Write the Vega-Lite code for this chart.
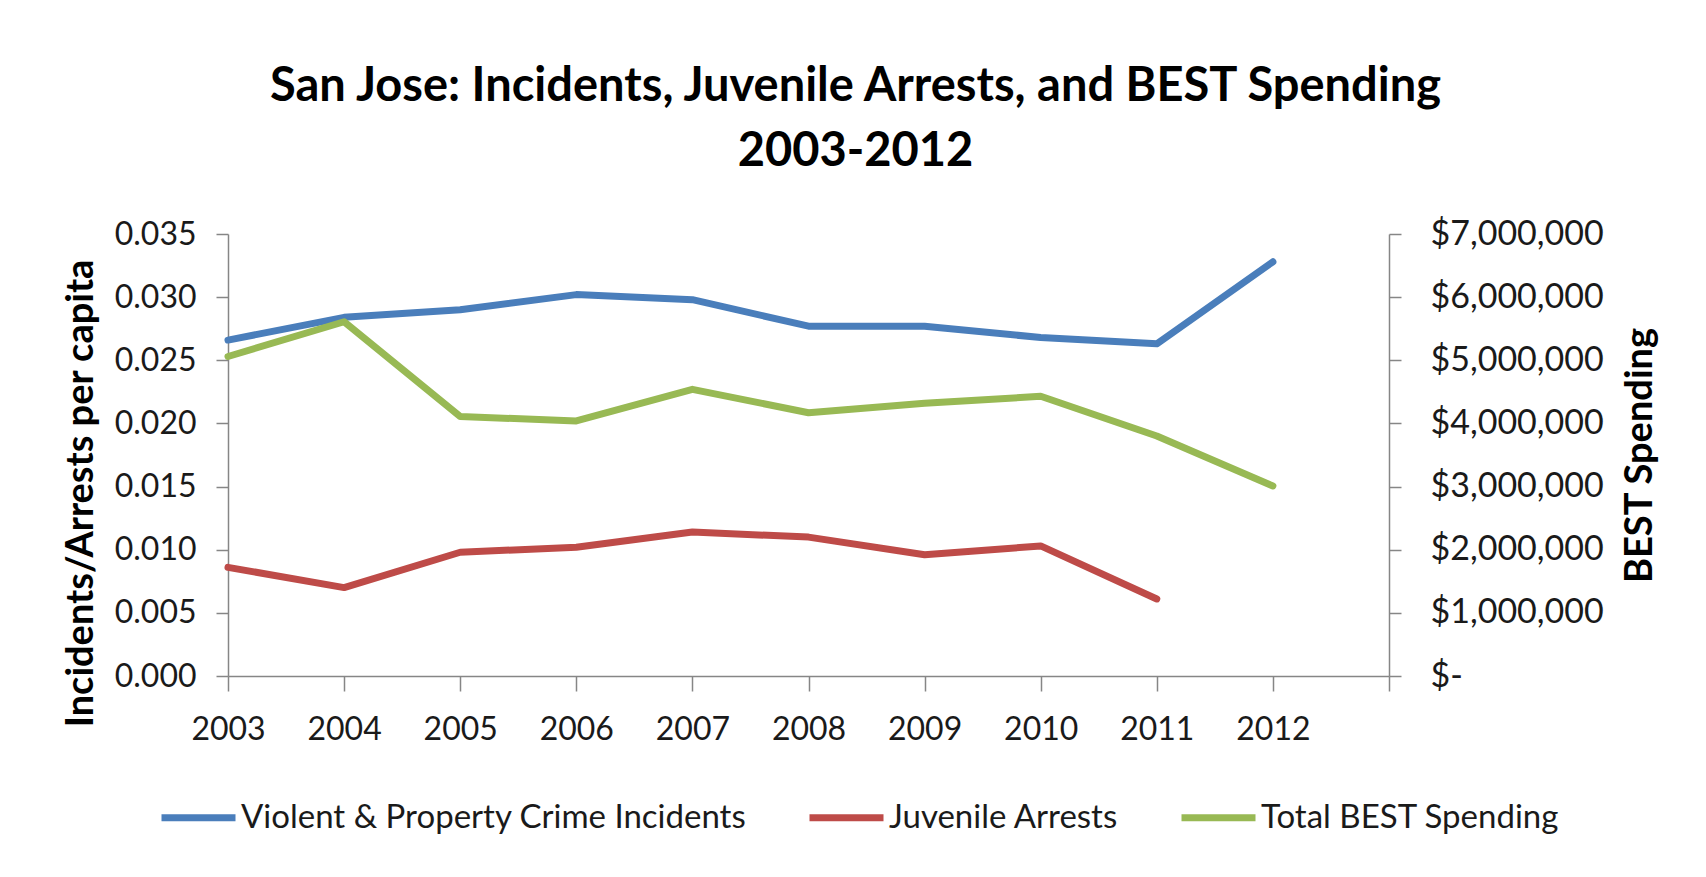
{
  "$schema": "https://vega.github.io/schema/vega-lite/v6.json",
  "width": 1161,
  "height": 442,
  "autosize": "none",
  "padding": {"left": 228, "top": 234, "right": 317, "bottom": 201},
  "background": "white",
  "config": {
    "font": "Lato",
    "view": {"stroke": null},
    "axis": {"labelFlush": false, "labelOverlap": false, "labelBound": false, "labelLimit": 0}
  },
  "title": {
    "text": ["San Jose: Incidents, Juvenile Arrests, and BEST Spending", "2003-2012"],
    "font": "Lato",
    "fontSize": 47,
    "fontWeight": "bold",
    "color": "#000000",
    "anchor": "middle",
    "frame": "group",
    "dx": 47,
    "lineHeight": 65,
    "baseline": "alphabetic",
    "offset": 4
  },
  "data": {
    "values": [
      {"year": 2003, "series": "Violent & Property Crime Incidents", "value": 0.0266},
      {"year": 2004, "series": "Violent & Property Crime Incidents", "value": 0.0284},
      {"year": 2005, "series": "Violent & Property Crime Incidents", "value": 0.0290},
      {"year": 2006, "series": "Violent & Property Crime Incidents", "value": 0.0302},
      {"year": 2007, "series": "Violent & Property Crime Incidents", "value": 0.0298},
      {"year": 2008, "series": "Violent & Property Crime Incidents", "value": 0.0277},
      {"year": 2009, "series": "Violent & Property Crime Incidents", "value": 0.0277},
      {"year": 2010, "series": "Violent & Property Crime Incidents", "value": 0.0268},
      {"year": 2011, "series": "Violent & Property Crime Incidents", "value": 0.0263},
      {"year": 2012, "series": "Violent & Property Crime Incidents", "value": 0.0328},
      {"year": 2003, "series": "Juvenile Arrests", "value": 0.0086},
      {"year": 2004, "series": "Juvenile Arrests", "value": 0.0070},
      {"year": 2005, "series": "Juvenile Arrests", "value": 0.0098},
      {"year": 2006, "series": "Juvenile Arrests", "value": 0.0102},
      {"year": 2007, "series": "Juvenile Arrests", "value": 0.0114},
      {"year": 2008, "series": "Juvenile Arrests", "value": 0.0110},
      {"year": 2009, "series": "Juvenile Arrests", "value": 0.0096},
      {"year": 2010, "series": "Juvenile Arrests", "value": 0.0103},
      {"year": 2011, "series": "Juvenile Arrests", "value": 0.0061},
      {"year": 2003, "series": "Total BEST Spending", "value": 5060000},
      {"year": 2004, "series": "Total BEST Spending", "value": 5610000},
      {"year": 2005, "series": "Total BEST Spending", "value": 4110000},
      {"year": 2006, "series": "Total BEST Spending", "value": 4040000},
      {"year": 2007, "series": "Total BEST Spending", "value": 4540000},
      {"year": 2008, "series": "Total BEST Spending", "value": 4170000},
      {"year": 2009, "series": "Total BEST Spending", "value": 4320000},
      {"year": 2010, "series": "Total BEST Spending", "value": 4430000},
      {"year": 2011, "series": "Total BEST Spending", "value": 3800000},
      {"year": 2012, "series": "Total BEST Spending", "value": 3010000}
    ]
  },
  "encoding": {
    "x": {
      "field": "year",
      "type": "quantitative",
      "scale": {"domain": [2003, 2013], "nice": false, "zero": false},
      "axis": {
        "title": null,
        "values": [2003, 2004, 2005, 2006, 2007, 2008, 2009, 2010, 2011, 2012, 2013],
        "format": "d",
        "labelExpr": "datum.value == 2013 ? '' : datum.label",
        "grid": false,
        "domainColor": "#868686",
        "domainWidth": 1.5,
        "tickColor": "#868686",
        "tickWidth": 1.5,
        "tickSize": 15,
        "labelFont": "Lato",
        "labelFontSize": 32,
        "labelColor": "#1a1a1a",
        "labelPadding": 23
      }
    },
    "color": {
      "field": "series",
      "type": "nominal",
      "scale": {
        "domain": ["Violent & Property Crime Incidents", "Juvenile Arrests", "Total BEST Spending"],
        "range": ["#4A7EBB", "#BE4B48", "#98B954"]
      },
      "legend": {
        "orient": "none",
        "legendX": -70,
        "legendY": 543,
        "direction": "horizontal",
        "title": null,
        "symbolType": "stroke",
        "symbolSize": 5476,
        "symbolStrokeWidth": 7,
        "labelFont": "Lato",
        "labelFontSize": 33,
        "labelColor": "#1a1a1a",
        "labelOffset": 2,
        "labelLimit": 0,
        "columnPadding": 48
      }
    }
  },
  "layer": [
    {
      "transform": [{"filter": "datum.series != 'Total BEST Spending'"}],
      "mark": {"type": "line", "strokeWidth": 7, "strokeCap": "round", "strokeJoin": "round"},
      "encoding": {
        "y": {
          "field": "value",
          "type": "quantitative",
          "scale": {"domain": [0, 0.035], "nice": false},
          "axis": {
            "orient": "left",
            "title": "Incidents/Arrests per capita",
            "values": [0, 0.005, 0.01, 0.015, 0.02, 0.025, 0.03, 0.035],
            "format": ".3f",
            "grid": false,
            "domainColor": "#868686",
            "domainWidth": 1.5,
            "tickColor": "#868686",
            "tickWidth": 1.5,
            "tickSize": 12,
            "labelFont": "Lato",
            "labelFontSize": 32,
            "labelColor": "#1a1a1a",
            "labelPadding": 20,
            "titleFont": "Lato",
            "titleFontSize": 38,
            "titleFontWeight": "bold",
            "titleColor": "#000000",
            "titleAngle": 270,
            "titleAlign": "center",
            "titleBaseline": "alphabetic",
            "titleX": -136,
            "titleY": 259
          }
        }
      }
    },
    {
      "transform": [{"filter": "datum.series == 'Total BEST Spending'"}],
      "mark": {"type": "line", "strokeWidth": 7, "strokeCap": "round", "strokeJoin": "round"},
      "encoding": {
        "y": {
          "field": "value",
          "type": "quantitative",
          "scale": {"domain": [0, 7000000], "nice": false},
          "axis": {
            "orient": "right",
            "title": "BEST Spending",
            "values": [0, 1000000, 2000000, 3000000, 4000000, 5000000, 6000000, 7000000],
            "labelExpr": "datum.value == 0 ? '$-' : format(datum.value, '$,.0f')",
            "grid": false,
            "domainColor": "#868686",
            "domainWidth": 1.5,
            "tickColor": "#868686",
            "tickWidth": 1.5,
            "tickSize": 12,
            "labelFont": "Lato",
            "labelFontSize": 34,
            "labelLimit": 0,
            "labelColor": "#1a1a1a",
            "labelPadding": 29,
            "titleFont": "Lato",
            "titleFontSize": 38,
            "titleFontWeight": "bold",
            "titleColor": "#000000",
            "titleAngle": 270,
            "titleAlign": "center",
            "titleBaseline": "alphabetic",
            "titleX": 262,
            "titleY": 221
          }
        }
      }
    }
  ],
  "resolve": {"scale": {"y": "independent"}}
}
